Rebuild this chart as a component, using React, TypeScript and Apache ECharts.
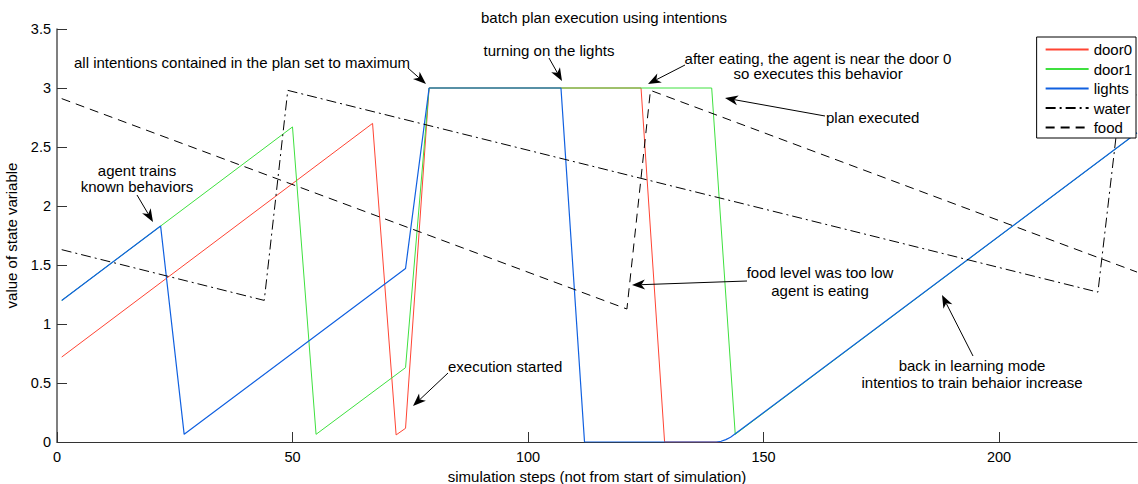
import React, { useEffect, useRef } from "react";
import * as echarts from "echarts";

// ---- data (x = simulation step, y = value of state variable) ----
const door0: [number, number][] = [
  [1, 0.72], [67, 2.7], [72, 0.06], [74, 0.116], [79, 3.0], [124, 3.0], [129, 0], [141, 0],
];
const door1: [number, number][] = [
  [1, 1.2], [22, 1.83], [50, 2.67], [55, 0.065], [74, 0.63], [79, 3.0], [139, 3.0], [144, 0.065], [229.3, 2.62],
];
const lights: [number, number][] = [
  [1, 1.2], [22, 1.83], [27, 0.065], [74, 1.47], [79, 3.0], [107, 3.0], [112, 0], [140, 0],
  [141, 0.006], [142, 0.02], [143, 0.04], [144, 0.07], [229.3, 2.62],
];
const water: [number, number][] = [
  [1, 1.63], [44, 1.2], [49, 2.98], [221, 1.27], [226, 2.98], [229.3, 2.94],
];
const food: [number, number][] = [
  [1, 2.91], [121, 1.127], [126, 2.98], [229.3, 1.44],
];
const seriesNames = ["door0", "door1", "lights", "water", "food"];
const xTicks = [0, 50, 100, 150, 200];
const xMax = 229.3;
const yMax = 3.5;
const yStep = 0.5;

const FONT = "Liberation Sans, Arial, Helvetica, sans-serif";

function arrow(x1: number, y1: number, x2: number, y2: number) {
  const dx = x2 - x1, dy = y2 - y1;
  const len = Math.hypot(dx, dy);
  const ux = dx / len, uy = dy / len;
  const nx = -uy, ny = ux;
  const L = 13, W = 5;
  const bx = x2 - ux * L, by = y2 - uy * L;
  const notchX = x2 - ux * L * 0.72, notchY = y2 - uy * L * 0.72;
  return [
    { type: "line", shape: { x1, y1, x2: notchX, y2: notchY }, style: { stroke: "#000", lineWidth: 1 }, z: 100 },
    {
      type: "polygon",
      shape: { points: [[x2, y2], [bx + nx * W, by + ny * W], [notchX, notchY], [bx - nx * W, by - ny * W]] },
      style: { fill: "#000" },
      z: 100,
    },
  ];
}

function label(text: string, x: number, y: number, align: "left" | "center" = "center") {
  return {
    type: "text",
    x,
    y,
    z: 100,
    style: { text, fill: "#000", font: `15px ${FONT}`, align, verticalAlign: "middle" },
  };
}

export default function App() {
  const ref = useRef<HTMLDivElement>(null);
  useEffect(() => {
    if (!ref.current) return;
    const chart = echarts.init(ref.current, null, { renderer: "svg" });
    const mk = (name: string, data: [number, number][], color: string, width: number, type: any) => ({
      name,
      type: "line",
      data,
      showSymbol: false,
      symbol: "none",
      lineStyle: { color, width, type },
      itemStyle: { color },
      emphasis: { disabled: true },
    });
    chart.setOption({
      animation: false,
      backgroundColor: "#fff",
      textStyle: { fontFamily: FONT },
      title: {
        text: "batch plan execution using intentions",
        left: 599,
        top: 5,
        textAlign: "center",
        textStyle: { fontSize: 15, fontWeight: "normal", color: "#000", fontFamily: FONT },
      },
      grid: { left: 57, top: 29, right: 1, bottom: 42, containLabel: false, outerBoundsMode: "none" },
      legend: {
        orient: "vertical",
        right: 2,
        top: 37,
        data: seriesNames,
        backgroundColor: "#fff",
        borderColor: "#000",
        borderWidth: 1,
        borderRadius: 0,
        padding: [5, 4, 3, 8],
        itemWidth: 43,
        itemHeight: 14,
        itemGap: 4.5,
        itemStyle: { color: "transparent", opacity: 0, borderWidth: 0 },
        textStyle: { fontSize: 15, color: "#000", fontFamily: FONT },
        selectedMode: false,
        z: 50,
      },
      xAxis: {
        type: "value",
        min: 0,
        max: xMax,
        name: "simulation steps (not from start of simulation)",
        nameLocation: "middle",
        nameGap: 27,
        nameTextStyle: { fontSize: 15, color: "#000", fontFamily: FONT },
        axisLine: { show: true, lineStyle: { color: "#333", width: 1 } },
        axisTick: { show: true, inside: true, length: 10, customValues: xTicks, lineStyle: { color: "#333" } },
        axisLabel: { customValues: xTicks, fontSize: 14.5, color: "#000", margin: 7, fontFamily: FONT },
        splitLine: { show: false },
      },
      yAxis: {
        type: "value",
        min: 0,
        max: yMax,
        interval: yStep,
        name: "value of state variable",
        nameLocation: "middle",
        nameGap: 38,
        nameRotate: 90,
        nameTextStyle: { fontSize: 15, color: "#000", fontFamily: FONT },
        axisLine: { show: true, lineStyle: { color: "#555", width: 1.5 } },
        axisTick: { show: true, inside: true, length: 10, lineStyle: { color: "#333" } },
        axisLabel: { fontSize: 14.5, color: "#000", margin: 6, fontFamily: FONT },
        splitLine: { show: false },
      },
      series: [
        mk("door0", door0, "#ff4433", 1, "solid"),
        mk("door1", door1, "#3fe03f", 1, "solid"),
        mk("lights", lights, "#1060e0", 1.2, "solid"),
        mk("water", water, "#000", 1, [10, 4, 2, 4]),
        mk("food", food, "#000", 1, [9, 6]),
      ],
      graphic: [
        label("all intentions contained in the plan set to maximum", 74, 62, "left"),
        ...arrow(408, 68, 426, 84),
        label("turning on the lights", 549, 50),
        ...arrow(549, 58, 562, 81),
        label("after eating, the agent is near the door 0", 818, 58),
        label("so executes this behavior", 818, 73.5),
        ...arrow(685, 65, 648, 84),
        label("plan executed", 826, 117, "left"),
        ...arrow(825, 116, 725, 98),
        label("agent trains", 137, 170),
        label("known behaviors", 137, 186),
        ...arrow(137, 195, 153, 222),
        label("execution started", 448, 366, "left"),
        ...arrow(448, 373, 413, 406),
        label("food level was too low", 820, 272),
        label("agent is eating", 820, 290),
        ...arrow(747, 281, 632, 285),
        label("back in learning mode", 972, 365),
        label("intentios to train behaior increase", 972, 382),
        ...arrow(973, 356, 942, 295),
      ],
    });
    return () => chart.dispose();
  }, []);
  return <div ref={ref} style={{ position: "fixed", left: 0, top: 0, width: 1138, height: 484 }} />;
}
